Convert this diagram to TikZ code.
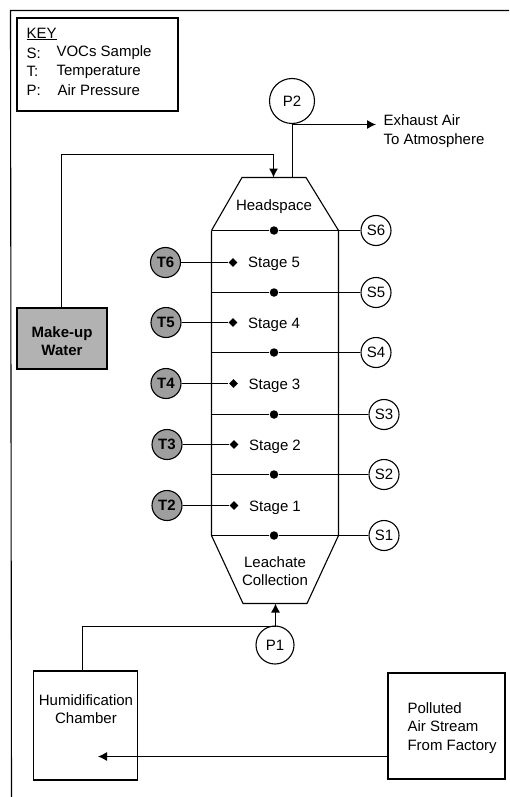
\documentclass[tikz,border=0pt]{standalone}
\usepackage{fontspec}
\setmainfont{Liberation Sans}
\usetikzlibrary{arrows.meta,shapes,positioning}
\begin{document}
\begin{tikzpicture}[x=1pt,y=-1pt,line width=1.1pt,font=\fontsize{15}{18.3}\selectfont]
            \useasboundingbox (0,0) rectangle (509,797);
            \begin{scope}[meter/.style={circle, draw, fill=white, inner sep=0pt, minimum size=30pt},
                    tmeter/.style={circle, draw, fill=black!38, inner sep=0pt, minimum size=30pt, font=\fontsize{15}{18}\selectfont\bfseries},
                    pmeter/.style={circle, draw, fill=white, inner sep=0pt},
                    dot/.style={circle, fill=black, inner sep=0pt, minimum size=8.5pt},
                    probe/.style={diamond, fill=black, inner sep=0pt, minimum size=9pt},
                    box/.style={draw, inner sep=0pt, align=center}]
                % outer frame
                \coordinate(frametr) at (509,10.5);
                \coordinate(frametl) at (10.5,10.5);
                \coordinate(framebl) at (11.5,797);
                \draw (frametr) -- (frametl) -- (framebl);
                %%% key
                \node(key) at (97.5,64.5) [box, minimum width=161pt, minimum height=93pt]{};
                \node(keyhead) at (26,34) [anchor=west, inner sep=0pt]{\underline{KEY}};
                \node(keys) at (26,53) [anchor=west, inner sep=0pt]{S:};
                \node(keyt) at (26,71.5) [anchor=west, inner sep=0pt]{T:};
                \node(keyp) at (26,90) [anchor=west, inner sep=0pt]{P:};
                \node(keystext) at (56,53) [anchor=west, inner sep=0pt]{VOCs Sample};
                \node(keyttext) at (56,71.5) [anchor=west, inner sep=0pt]{Temperature};
                \node(keyptext) at (57,90) [anchor=west, inner sep=0pt]{Air Pressure};
                %%% column
                \coordinate(headtl) at (242,177.5);
                \coordinate(headtr) at (306,177.5);
                \coordinate(wall6l) at (211.5,230.5);
                \coordinate(wall6r) at (338.5,230.5);
                \coordinate(wall5l) at (211.5,292.5);
                \coordinate(wall5r) at (338.5,292.5);
                \coordinate(wall4l) at (211.5,352.5);
                \coordinate(wall4r) at (338.5,352.5);
                \coordinate(wall3l) at (211.5,414.5);
                \coordinate(wall3r) at (338.5,414.5);
                \coordinate(wall2l) at (211.5,474.5);
                \coordinate(wall2r) at (338.5,474.5);
                \coordinate(wall1l) at (211.5,535.5);
                \coordinate(wall1r) at (338.5,535.5);
                \coordinate(leachbl) at (243,603.5);
                \coordinate(leachbr) at (307,603.5);
                \draw (wall6l) -- (headtl) -- (headtr) -- (wall6r);
                \draw (wall6l) -- (wall1l) -- (leachbl) -- (leachbr) -- (wall1r) -- (wall6r);
                %%%
                \node(head) at (274,207) {Headspace};
                \node(stage5) at (274,264) {Stage 5};
                \node(stage4) at (274,325) {Stage 4};
                \node(stage3) at (274.5,386) {Stage 3};
                \node(stage2) at (275,447) {Stage 2};
                \node(stage1) at (275,508) {Stage 1};
                \node(leach) at (275,571) [align=center]{Leachate\\Collection};
                %%% sample points
                \node(dot6) at (274,230.5) [dot]{};
                \node(dot5) at (274,292.5) [dot]{};
                \node(dot4) at (274,352.5) [dot]{};
                \node(dot3) at (274,414.5) [dot]{};
                \node(dot2) at (274,474.5) [dot]{};
                \node(dot1) at (274,535.5) [dot]{};
                \node(s6) at (376,230.5) [meter]{S6};
                \node(s5) at (376,292.5) [meter]{S5};
                \node(s4) at (376,352.5) [meter]{S4};
                \node(s3) at (384,414.5) [meter]{S3};
                \node(s2) at (384,474.5) [meter]{S2};
                \node(s1) at (384,535.5) [meter]{S1};
                %%% temperature probes
                \node(t6) at (165.5,262.5) [tmeter]{T6};
                \node(t5) at (166,322.5) [tmeter]{T5};
                \node(t4) at (166,383.5) [tmeter]{T4};
                \node(t3) at (167,444.5) [tmeter]{T3};
                \node(t2) at (167,505.5) [tmeter]{T2};
                \node(probe5) at (233,262.5) [probe]{};
                \node(probe4) at (233,322.5) [probe]{};
                \node(probe3) at (233.5,383.5) [probe]{};
                \node(probe2) at (234,444.5) [probe]{};
                \node(probe1) at (234,505.5) [probe]{};
                %%% pressure
                \node(p2) at (292,101) [pmeter, minimum size=45pt]{P2};
                \node(p1) at (275,645) [pmeter, minimum size=38pt]{P1};
                \coordinate(p2out) at (292.5,124.5);
                \coordinate(headin) at (292.5,177.5);
                \node(exhaust) at (383,131) [anchor=west, inner sep=0pt, align=left]{Exhaust Air\\To Atmosphere};
                %%% boxes
                \node(water) at (62,338.5) [box, fill=black!30, minimum width=90pt, minimum height=61pt]{};
                \node(watertext) at (62,341) [align=center, inner sep=0pt, font=\fontsize{15}{18.3}\selectfont\bfseries]{Make-up\\Water};
                \node(humid) at (85.5,725.5) [box, minimum width=104pt, minimum height=109pt]{};
                \node(humidtext) at (86,709) [align=center, inner sep=0pt]{Humidification\\Chamber};
                \node(factory) at (446.5,726) [box, minimum width=117pt, minimum height=106pt]{};
                \node(factorytext) at (407,728) [anchor=west, inner sep=0pt, align=left]{Polluted\\Air Stream\\From Factory};
            \end{scope}
            \coordinate(wateru) at (61.5,154.5);
            \coordinate(watert) at (273.5,154.5);
            \coordinate(waterin) at (273.5,177.5);
            \coordinate(humidu) at (82.5,626.5);
            \coordinate(p1top) at (275.5,626.5);
            \coordinate(arrowend) at (98,756.5);
            \coordinate(factoryl) at (388,756.5);
            \coordinate(exhaustend) at (376,124.5);
            \tikzset{flow/.style={-{Latex[length=9pt,width=9pt]}}}
            \draw[flow] (water.north -| wateru) -- (wateru) -- (watert) -- (waterin);
            \draw (p2.south -| p2out) -- (headin);
            \draw[flow] (p2out) -- (exhaustend);
            \draw (humid.north -| humidu) -- (humidu) -- (p1top);
            \draw[flow] (p1top) -- (leachbl -| p1top);
            \draw[flow] (factoryl) -- (arrowend);
            %
            \draw[line width=1.5pt] (wall6l) -- (dot6);
            \draw[line width=1.5pt] (wall5l) -- (dot5);
            \draw[line width=1.5pt] (wall4l) -- (dot4);
            \draw[line width=1.5pt] (wall3l) -- (dot3);
            \draw[line width=1.5pt] (wall2l) -- (dot2);
            \draw[line width=1.5pt] (wall1l) -- (dot1);
            \draw (dot6) -- (s6);
            \draw (dot5) -- (s5);
            \draw (dot4) -- (s4);
            \draw (dot3) -- (s3);
            \draw (dot2) -- (s2);
            \draw (dot1) -- (s1);
            %
            \draw (t6) -- (probe5);
            \draw (t5) -- (probe4);
            \draw (t4) -- (probe3);
            \draw (t3) -- (probe2);
            \draw (t2) -- (probe1);
        \end{tikzpicture}
\end{document}
